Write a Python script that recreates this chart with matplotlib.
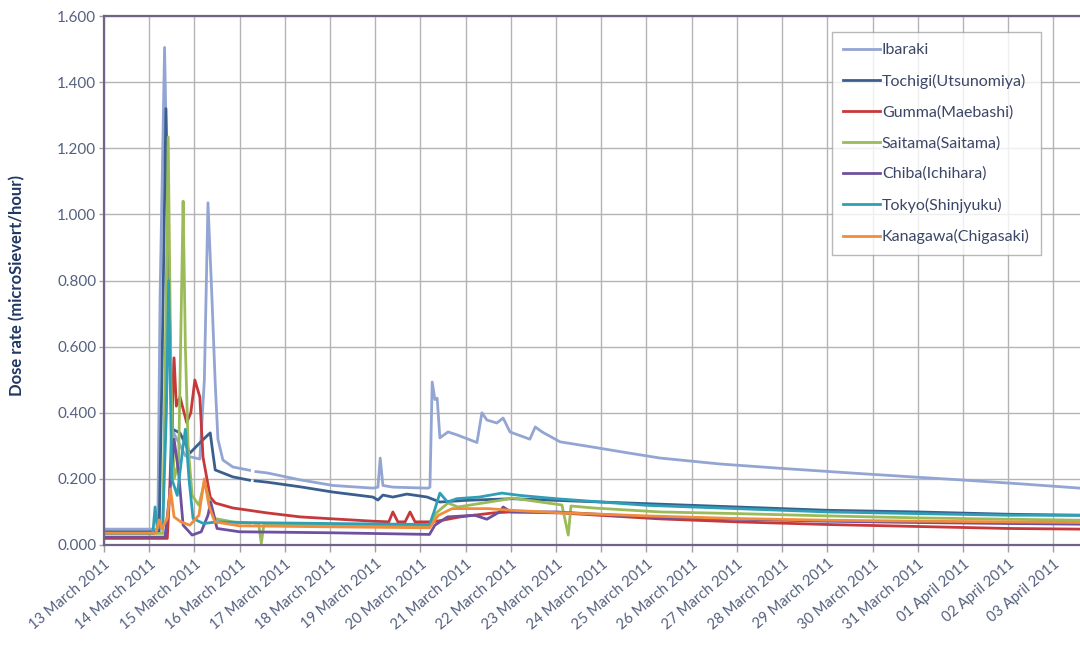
import numpy as np
import pandas as pd
import matplotlib
matplotlib.use("Agg")
import matplotlib.pyplot as plt
import matplotlib.dates as mdates

nan = np.nan
START = pd.Timestamp("2011-03-13")
X_SPAN_DAYS = 21.59

# (days since 13 March 2011 00:00, dose rate in microSievert/hour)
IBARAKI = [(0.00, 0.048), (1.19, 0.048), (1.24, 0.75), (1.30, 1.20), (1.34, 1.505),
           (1.42, 0.90), (1.50, 0.35), (1.80, 0.27), (2.12, 0.26), (2.22, 0.50),
           (2.30, 1.035), (2.39, 0.74), (2.46, 0.49), (2.52, 0.32), (2.63, 0.257),
           (2.85, 0.236), (3.22, 0.226), (3.28, nan), (3.36, 0.222), (3.61, 0.218),
           (4.34, 0.197), (5.07, 0.180), (5.95, 0.172), (6.06, 0.175), (6.11, 0.263),
           (6.17, 0.180), (6.39, 0.175), (7.17, 0.172), (7.21, 0.175), (7.26, 0.493),
           (7.32, 0.440), (7.37, 0.444), (7.43, 0.324), (7.61, 0.342), (7.81, 0.333),
           (8.25, 0.310), (8.36, 0.400), (8.47, 0.378), (8.69, 0.369), (8.83, 0.384),
           (8.98, 0.342), (9.42, 0.320), (9.54, 0.357), (9.69, 0.342), (10.09, 0.312),
           (10.82, 0.296), (11.57, 0.279), (12.30, 0.263), (13.63, 0.245), (14.96, 0.232),
           (16.50, 0.218), (17.99, 0.205), (18.94, 0.197), (20.27, 0.185), (21.59, 0.172)]

TOCHIGI = [(0.00, 0.040), (1.22, 0.040), (1.28, 0.50), (1.37, 1.32), (1.45, 0.70),
           (1.52, 0.35), (1.68, 0.339), (1.90, 0.278), (2.12, 0.309), (2.30, 0.333),
           (2.35, 0.339), (2.39, 0.297), (2.46, 0.227), (2.85, 0.206), (3.22, 0.196),
           (3.28, nan), (3.34, 0.194), (3.61, 0.190), (4.34, 0.176), (5.07, 0.160),
           (5.95, 0.145), (6.06, 0.136), (6.17, 0.151), (6.39, 0.145), (6.70, 0.154),
           (7.15, 0.145), (7.43, 0.130), (7.99, 0.135), (9.03, 0.140), (10.00, 0.135),
           (12.00, 0.125), (14.00, 0.115), (16.00, 0.105), (18.00, 0.100), (20.00, 0.093),
           (21.59, 0.090)]

GUMMA = [(0.00, 0.020), (1.40, 0.020), (1.45, 0.15), (1.52, 0.45), (1.55, 0.566),
         (1.60, 0.42), (1.68, 0.448), (1.83, 0.37), (1.92, 0.40), (2.01, 0.499),
         (2.12, 0.448), (2.19, 0.266), (2.35, 0.145), (2.46, 0.127), (2.85, 0.112),
         (3.61, 0.097), (4.34, 0.085), (5.07, 0.079), (5.95, 0.072), (6.30, 0.070),
         (6.39, 0.100), (6.50, 0.070), (6.66, 0.070), (6.77, 0.100), (6.88, 0.070),
         (7.20, 0.070), (7.37, 0.072), (7.88, 0.085), (8.61, 0.097), (8.98, 0.100),
         (10.09, 0.097), (12.30, 0.079), (14.00, 0.070), (16.00, 0.062), (18.00, 0.056),
         (20.00, 0.050), (21.59, 0.048)]

SAITAMA = [(0.00, 0.035), (1.30, 0.035), (1.36, 0.60), (1.42, 1.234), (1.48, 0.50),
           (1.55, 0.20), (1.65, 0.25), (1.72, 0.80), (1.75, 1.04), (1.80, 0.60),
           (1.86, 0.30), (1.95, 0.15), (2.10, 0.12), (2.22, 0.19), (2.30, 0.15),
           (2.45, 0.080), (2.85, 0.070), (3.22, 0.066), (3.28, nan), (3.34, 0.066),
           (3.42, 0.065), (3.48, 0.005), (3.54, 0.065), (5.00, 0.060), (7.20, 0.058),
           (7.35, 0.097), (7.61, 0.127), (7.83, 0.115), (8.80, 0.136), (9.03, 0.142),
           (10.13, 0.121), (10.27, 0.030), (10.33, 0.118), (10.82, 0.112), (12.30, 0.100),
           (14.00, 0.095), (16.00, 0.088), (18.00, 0.082), (20.00, 0.078), (21.59, 0.075)]

CHIBA = [(0.00, 0.024), (1.35, 0.024), (1.45, 0.15), (1.55, 0.32), (1.65, 0.22),
         (1.75, 0.06), (1.95, 0.030), (2.15, 0.040), (2.30, 0.090), (2.36, 0.130),
         (2.50, 0.050), (3.00, 0.040), (5.00, 0.037), (7.20, 0.032), (7.32, 0.060),
         (7.60, 0.085), (8.20, 0.090), (8.47, 0.078), (8.75, 0.100), (8.83, 0.115),
         (9.00, 0.100), (10.00, 0.100), (12.00, 0.085), (14.00, 0.078), (16.00, 0.072),
         (18.00, 0.068), (20.00, 0.065), (21.59, 0.063)]

TOKYO = [(0.00, 0.035), (1.08, 0.035), (1.13, 0.115), (1.18, 0.050), (1.30, 0.060),
         (1.38, 0.40), (1.43, 0.80), (1.50, 0.20), (1.62, 0.15), (1.75, 0.30),
         (1.80, 0.35), (1.88, 0.20), (1.97, 0.080), (2.20, 0.065), (2.50, 0.070),
         (3.00, 0.068), (5.00, 0.065), (7.20, 0.062), (7.30, 0.100), (7.43, 0.157),
         (7.60, 0.130), (7.80, 0.140), (8.30, 0.145), (8.80, 0.157), (9.20, 0.150),
         (10.00, 0.140), (12.00, 0.120), (14.00, 0.110), (16.00, 0.100), (18.00, 0.095),
         (20.00, 0.090), (21.59, 0.090)]

KANAGAWA = [(0.00, 0.036), (1.15, 0.036), (1.22, 0.076), (1.28, 0.050), (1.40, 0.080),
            (1.47, 0.17), (1.55, 0.085), (1.70, 0.070), (1.90, 0.060), (2.10, 0.090),
            (2.22, 0.20), (2.32, 0.12), (2.45, 0.070), (3.00, 0.058), (5.00, 0.055),
            (7.20, 0.052), (7.40, 0.090), (7.70, 0.110), (8.50, 0.110), (9.00, 0.105),
            (10.00, 0.098), (12.00, 0.088), (14.00, 0.080), (16.00, 0.075), (18.00, 0.072),
            (20.00, 0.070), (21.59, 0.068)]

SERIES = [
    ("Ibaraki", IBARAKI, "#93a5d3"),
    ("Tochigi(Utsunomiya)", TOCHIGI, "#3a5f8e"),
    ("Gumma(Maebashi)", GUMMA, "#c8383a"),
    ("Saitama(Saitama)", SAITAMA, "#9bbb59"),
    ("Chiba(Ichihara)", CHIBA, "#6e50a0"),
    ("Tokyo(Shinjyuku)", TOKYO, "#2f9fb6"),
    ("Kanagawa(Chigasaki)", KANAGAWA, "#f08c3c"),
]

Y_TICKS = [0.0, 0.2, 0.4, 0.6, 0.8, 1.0, 1.2, 1.4, 1.6]
Y_LABEL = "Dose rate (microSievert/hour)"

plt.rcParams["font.family"] = ["Lato", "DejaVu Sans"]

fig = plt.figure(figsize=(10.8, 6.51), dpi=100)
ax = fig.add_axes([104 / 1080, 1 - 545 / 651, 976 / 1080, 529 / 651])

for name, pts, color in SERIES:
    days = np.array([p[0] for p in pts])
    vals = np.array([p[1] for p in pts])
    times = START + pd.to_timedelta(days, unit="D")
    ax.plot(times, vals, color=color, lw=2.0, label=name, solid_joinstyle="round")

ax.set_xlim(START, START + pd.Timedelta(days=X_SPAN_DAYS))
ax.set_ylim(0, 1.6)
ax.set_yticks(Y_TICKS)
ax.yaxis.set_major_formatter(matplotlib.ticker.FormatStrFormatter("%.3f"))
ax.xaxis.set_major_locator(mdates.DayLocator())
ax.xaxis.set_major_formatter(mdates.DateFormatter("%d %B %Y"))

ax.grid(True, color="#b4b4b4", lw=1.0)
ax.set_axisbelow(True)

tick_color = "#55607e"
ax.tick_params(axis="x", colors="#a0a0a0", length=5, width=1,
               labelcolor=tick_color, labelsize=10.5)
ax.tick_params(axis="y", colors="#a0a0a0", length=3.5, width=1, pad=2,
               labelcolor=tick_color, labelsize=11)
for lab in ax.get_xticklabels():
    lab.set_rotation(40)
    lab.set_ha("right")
    lab.set_rotation_mode("anchor")

for side in ("left", "bottom", "top"):
    ax.spines[side].set_color("#6f6488")
    ax.spines[side].set_linewidth(1.6)
ax.spines["right"].set_visible(False)

ax.set_ylabel(Y_LABEL, color="#1f3864", fontsize=12, fontweight="bold")
ax.yaxis.set_label_coords(-0.081, 0.49)

leg = ax.legend(loc="upper right", bbox_to_anchor=(0.96, 0.97), borderaxespad=0,
                frameon=True, fancybox=False, fontsize=11.5, handlelength=2.3,
                handletextpad=0.15, labelspacing=1.03, borderpad=0.7)
leg.get_frame().set_edgecolor("#a6a6a6")
leg.get_frame().set_linewidth(1.0)
for t in leg.get_texts():
    t.set_color("#3c4666")

fig.savefig("out.png", dpi=100, facecolor="white")
